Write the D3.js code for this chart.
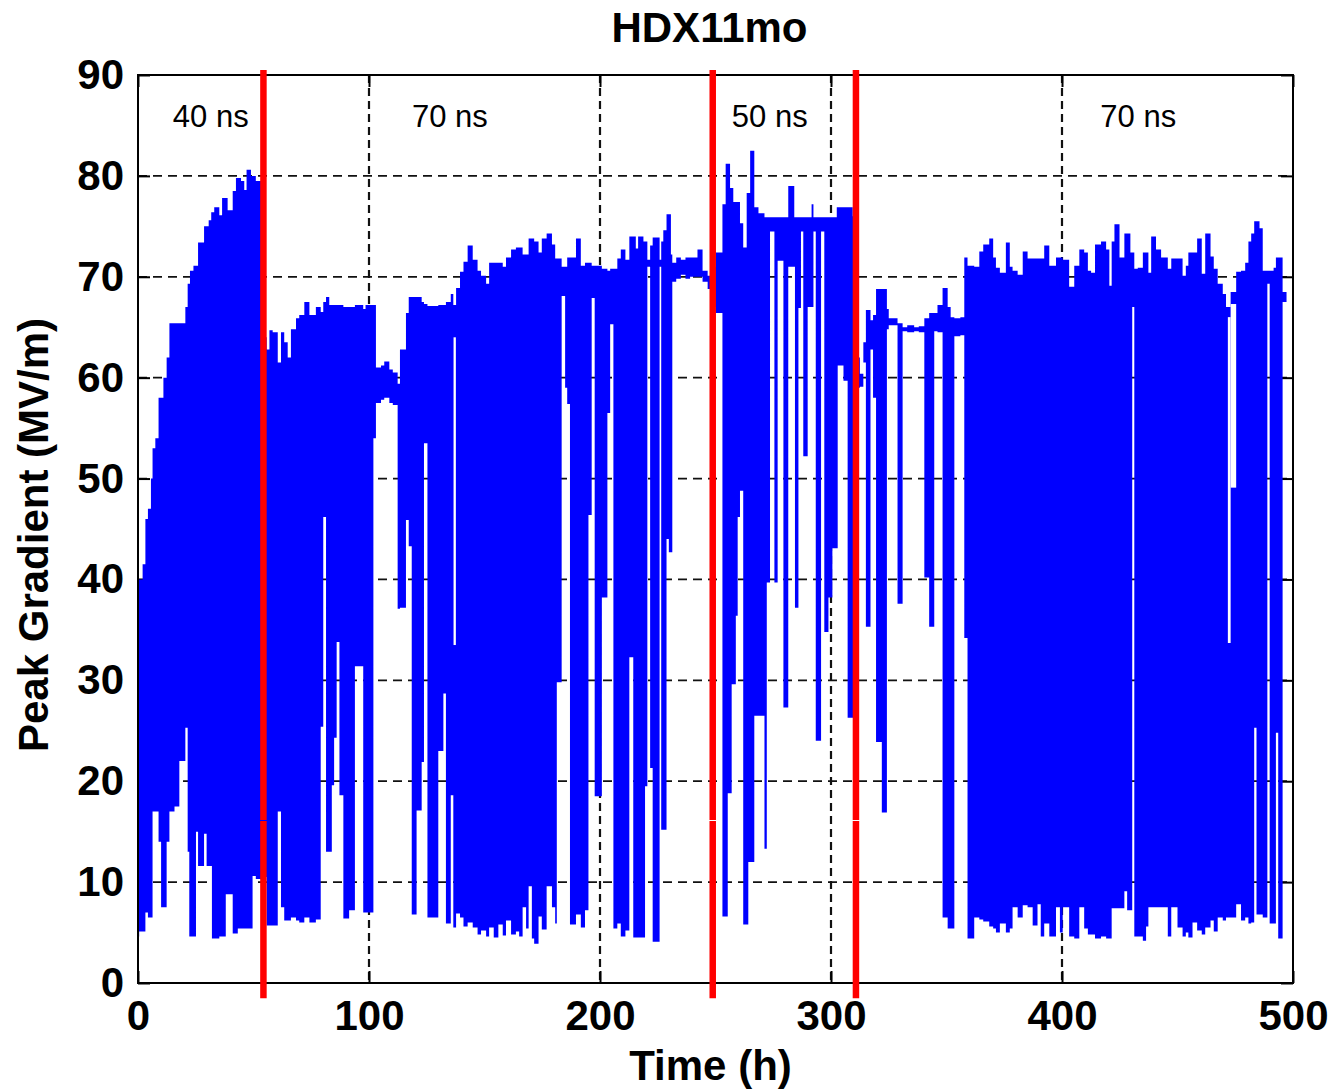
<!DOCTYPE html>
<html>
<head>
<meta charset="utf-8">
<script src="https://cdn.jsdelivr.net/npm/d3@7"></script>
<style>
  html, body { margin: 0; padding: 0; background: #fff; }
  svg text { font-family: "Liberation Sans", Arial, sans-serif; }
</style>
</head>
<body>
<svg id="chart" width="1334" height="1091"></svg>
<script>
// Peak gradient trace, one array per pulse-length regime.
// Each entry: [hour where the step starts, upper value, lower value] in MV/m.
const trace40ns = [
  [0, 40, 4.6], [0.5, 40, 5.1], [2.0, 41.5, 5.1], [3.2, 46, 7], [4.3, 47, 6.5],
  [5.6, 50, 6.5], [6.3, 53, 17], [7.5, 54, 17], [8.9, 58, 14], [10, 58, 7.5],
  [11, 60, 7.5], [12.4, 62, 14], [13.6, 65.4, 17], [15.8, 65.4, 17.5], [17.9, 65.4, 22],
  [20.5, 67, 25.3], [21.5, 69.3, 13], [22.2, 69.3, 4.6], [22.5, 70.6, 4.6], [24, 71.1, 4.6],
  [25.1, 71.1, 15], [26, 73.4, 11.6], [28.6, 75, 14.8], [29.7, 75, 11.6], [30.6, 75.6, 11.6],
  [31.7, 76.4, 11.6], [32, 76.4, 4.4], [33, 76.9, 4.4], [35.2, 76.1, 4.6], [36.4, 77.8, 4.6],
  [38, 77.8, 8.8], [38.8, 76.6, 8.8], [41, 78.5, 4.9], [42.4, 79.8, 4.9], [43.2, 79.8, 5.4],
  [44.6, 79.5, 5.4], [46, 78.6, 5.4], [47, 80.6, 5.4], [48.9, 80, 5.4], [49.6, 80, 10.6],
  [51, 79.5, 10.3]
];

const trace70nsA = [
  [54.3, 64, 10.5], [55.7, 62.8, 5.7], [56.9, 64.7, 5.7], [58.3, 64.5, 5.7], [60.5, 61.5, 17],
  [61.9, 64.5, 7.5], [63.3, 63.5, 6.2], [64.8, 62, 6.2], [66.2, 64.8, 6.5], [68.4, 65.9, 6.2],
  [69.8, 66.2, 6], [72, 67.5, 6.5], [74.2, 66.2, 6], [77, 67, 6.3], [79.1, 66.5, 25.4],
  [80.2, 67.5, 46.2], [81.4, 68, 13], [82.8, 67.2, 13], [83.9, 67.2, 19.6], [84.9, 67.2, 24.3],
  [86, 67.2, 33.8], [87.2, 67.2, 18.6], [88.9, 67, 6.4], [91.4, 67, 7.2], [93.9, 67.2, 31.4],
  [97.5, 66.8, 7], [98.5, 67.2, 7], [101.9, 67.2, 54], [103, 61, 57.5], [105.2, 61.2, 57.8],
  [106.6, 61.6, 58], [108.8, 60.8, 57.5], [110.3, 60.5, 57.3], [112.4, 59.4, 37.1], [113.4, 62.8, 37.2],
  [116, 66.4, 45.9], [117.2, 68, 43.3], [118.5, 68, 6.8], [120.6, 68, 17.1], [122.8, 67.5, 21.9],
  [123.8, 67.3, 53.5], [125.3, 67.1, 6.5], [130, 67.2, 23], [132.2, 67.2, 28.7], [133.3, 67.5, 5.9],
  [135.4, 68.3, 18.6], [136.5, 67.2, 5.5], [137.7, 68.9, 6.9], [139.4, 70.5, 6.5], [140.9, 71.5, 5.6],
  [142.7, 73.1, 6], [144.9, 71.7, 5.5], [147, 70.6, 4.8], [148.5, 70.1, 5.2], [150.7, 69.3, 4.6],
  [152, 71.4, 5.5], [154, 71.4, 4.5], [156, 71.4, 5.8], [157.9, 71, 4.7], [159.3, 71.9, 6.2],
  [161.5, 72.7, 4.8], [163.6, 72.9, 5.1], [165, 72.9, 4.6], [166.5, 72.2, 7.5], [168, 72.2, 5.4],
  [169.1, 73.8, 9.6], [170.5, 73.8, 4.4], [171.5, 73.5, 3.9], [173.4, 72.4, 6.6], [174.8, 73.8, 5.3],
  [176.9, 74.3, 9.6], [179.2, 73.2, 7.5], [180.6, 71.8, 5.9], [181.3, 71.8, 29.8], [183.4, 71, 68.1],
  [184.9, 71, 59], [185.8, 71.9, 57.4], [187, 71.9, 5.8], [189.6, 73.8, 6.8], [191.7, 71.1, 5.5],
  [193.5, 71.4, 7.2], [195, 71.4, 46.4], [196.4, 71.1, 67.9], [197.7, 71.1, 18.5], [200.8, 70.8, 38.2],
  [203.2, 70.6, 56.5], [204.4, 70.8, 65.3], [205.8, 70.8, 5.4], [207.5, 71.8, 5.9], [209, 72.7, 4.6],
  [211, 71.7, 5.2], [212.7, 74, 32.3], [214.4, 74, 4.5], [215.5, 72.8, 4.5], [216.5, 74, 4.5],
  [218.8, 73.5, 4.5], [219.5, 73.5, 19.5], [220.5, 71.7, 71], [221.7, 73.1, 21.3], [222.8, 73.9, 4.1],
  [225.8, 71.7, 71], [226.5, 73.5, 15.2], [227.4, 74.6, 15.2], [228.8, 76.2, 44], [229.8, 76.2, 42.7],
  [230.7, 72.2, 42.7], [231.3, 71.4, 69.5], [233, 71.9, 69.8], [235, 71.7, 70.2], [237, 71.9, 69.8],
  [239, 71.9, 70], [242.2, 72.7, 70], [244.4, 70.6, 69.5], [246.6, 70.1, 68.8]
];

const trace50ns = [
  [248.8, 71, 67], [250.2, 72.4, 66.4], [253, 77.2, 6.6], [254.4, 81.2, 6.6], [255.3, 81.2, 18.8],
  [256.3, 78.8, 18.8], [257, 78.8, 29.6], [257.7, 77.4, 29.6], [258.8, 77.4, 36.4], [259.6, 77.4, 46.2],
  [260.6, 75.3, 48.8], [262, 72.9, 5.8], [263.5, 78.3, 5.8], [264.2, 78.3, 12], [265, 82.5, 12],
  [266.8, 76.9, 26.5], [268.6, 76.3, 26.5], [271.2, 75.9, 13.3], [272.2, 75.9, 39.7], [273.6, 75.9, 74.5],
  [275.5, 75.9, 39.7], [276.9, 75.9, 71.6], [279.4, 75.9, 27.3], [281.5, 79, 71], [284.1, 75.9, 71],
  [284.4, 75.9, 37.2], [285.9, 75.9, 66.9], [287, 75.9, 74.5], [288, 75.9, 52.2], [289.9, 75.9, 67],
  [291.6, 77.2, 67], [292.4, 75.9, 74.5], [293.4, 75.9, 24], [295.7, 75.9, 74.5], [297.1, 75.9, 34.8],
  [298.9, 75.9, 38.2], [300.6, 75.9, 43.1], [302.5, 76.9, 43.1], [302.9, 76.9, 61.2], [305.4, 76.9, 59.7],
  [307.2, 76.9, 26.3], [309.4, 76, 26.3]
];

const trace70nsB = [
  [310.8, 62, 59], [312.5, 60.4, 59.1], [314, 63.5, 61.5], [315.1, 66.7, 35.3], [317.1, 65.7, 62.8],
  [318.2, 66.2, 58], [319.5, 68.8, 23.9], [322, 68.8, 16.9], [324.2, 66.8, 64.8], [325, 65.9, 65.2],
  [328.8, 65.4, 37.6], [331, 65, 64.6], [333, 65.2, 64.5], [336, 65, 64.6], [338, 65.1, 64.5],
  [340.4, 65.9, 40.2], [342.5, 66.4, 35.3], [344.7, 66.4, 64.6], [346.1, 67.2, 64.5], [348.3, 68.9, 6.5],
  [350.5, 67, 5.4], [351.8, 66, 5.4], [353.4, 65.9, 64.1], [356, 66, 64.2], [357.7, 71.9, 34.2],
  [359.1, 71.1, 4.4], [362, 71, 6.5], [364.2, 72.5, 6.3], [365.9, 73.2, 6.1], [368.5, 73.8, 5.6],
  [370.2, 71.9, 5.4], [371.4, 70.9, 5], [373.1, 70.4, 5.9], [375.7, 73.4, 5], [377.4, 71, 5.4],
  [378.6, 70.6, 7.5], [380.8, 70.2, 6.5], [383, 72.5, 7.7], [385.1, 71.8, 7.5], [387.3, 71.8, 5.7],
  [389.4, 71.8, 7.8], [390.8, 71.8, 4.6], [392.3, 73.1, 5.9], [394.5, 71.1, 4.6], [397.4, 71.9, 7.5],
  [399.1, 71.9, 5], [400.3, 71.7, 7.5], [403.1, 69, 4.6], [405.3, 71.1, 4.4], [407.5, 72.7, 7.5],
  [409.6, 72.4, 5.4], [411.2, 70.6, 4.8], [412.6, 70.4, 4.8], [414.3, 73.2, 4.4], [416.9, 73.5, 4.6],
  [419.1, 72.7, 4.4], [420.5, 69.1, 4.4], [421.5, 73.5, 7.4], [422.7, 75.2, 7.4], [424.9, 71.9, 7.4],
  [427, 74.3, 9.1], [428.2, 74.3, 7.2], [429.6, 72.4, 7.2], [430.4, 72.4, 67], [431.3, 70.8, 4.6],
  [432.8, 70.9, 4.6], [435, 72.4, 4.2], [436.4, 72.4, 5.6], [437.4, 70.4, 7.5], [438.6, 74, 7.5],
  [440.7, 72.7, 7.5], [442.9, 71.9, 7.5], [445.8, 70.8, 4.6], [447.3, 71.8, 7.5], [450, 71.8, 5.5],
  [452.2, 70.1, 4.6], [453.6, 71.1, 5], [454.7, 72.4, 4.5], [456.5, 72.4, 6], [458.5, 73.8, 5.2],
  [460.5, 70.3, 4.8], [462, 74.3, 5.5], [464.3, 72, 6.2], [465.7, 70.8, 5.1], [467.4, 69.3, 6.5],
  [469.6, 68.3, 6.2], [471, 67, 6.5], [473, 68.5, 6.5], [475.4, 70.5, 7.8], [477.5, 70.6, 6.2],
  [479.3, 71.4, 6.5], [480.7, 73.5, 5.9], [481.9, 74.3, 6], [483.2, 75.5, 25.3], [484.2, 75.5, 6.8],
  [485.5, 74.8, 6.8], [486.9, 70.6, 6.5], [488.9, 70.6, 69.3], [489.9, 70.6, 5.9], [491.6, 70.9, 5.9],
  [492.6, 71.9, 24.8], [493.6, 71.9, 4.4], [495.5, 68.5, 67.5]
];
const traceEndHour = 497.2;

// Short intervals with no recorded points: [from hour, to hour, lower value, upper value]
const traceGaps = [
  [136.6, 137.6, 33.5, 64],
  [471.8, 473.0, 33.7, 66],
  [473.0, 475.4, 49.1, 67.3]
];

// Pulse-length changes (hours) and regime labels
const pulseChangeHours = [54.3, 248.8, 310.8];
const pulseLabels = ["40 ns", "70 ns", "50 ns", "70 ns"];
const pulseLabelHours = [31.5, 135, 273.5, 433];

const xTicks = [0, 100, 200, 300, 400, 500];
const yTicks = [0, 10, 20, 30, 40, 50, 60, 70, 80, 90];
const titleText = "HDX11mo";
const xLabel = "Time (h)";
const yLabel = "Peak Gradient (MV/m)";

// ---- layout ----
const svg = d3.select("#chart");
const plot = { left: 138, right: 1293, top: 75, bottom: 983 };
const x = d3.scaleLinear().domain([0, 500]).range([plot.left, plot.right]);
const y = d3.scaleLinear().domain([0, 90]).range([plot.bottom, plot.top]);
const BLUE = "#0000ff", RED = "#ff0000";
const bigFont = "42px";

// grid
const grid = svg.append("g");
grid.selectAll("line.h").data(yTicks.filter(v => v > 0 && v < 90)).join("line")
  .attr("x1", plot.left).attr("x2", plot.right)
  .attr("y1", d => y(d)).attr("y2", d => y(d))
  .attr("stroke", "#111").attr("stroke-width", 1.8).attr("stroke-dasharray", "9,6");
grid.selectAll("line.v").data(xTicks.filter(v => v > 0 && v < 500)).join("line")
  .attr("x1", d => x(d)).attr("x2", d => x(d))
  .attr("y1", plot.top).attr("y2", plot.bottom)
  .attr("stroke", "#111").attr("stroke-width", 2.2).attr("stroke-dasharray", "8,5");

// axes with inward ticks
const tickLen = 12;
const fmt = d3.format("d");
const axB = svg.append("g").attr("transform", `translate(0,${plot.bottom})`)
  .call(d3.axisBottom(x).tickValues(xTicks).tickFormat(fmt).tickSizeInner(-tickLen).tickSizeOuter(0).tickPadding(17));
const axL = svg.append("g").attr("transform", `translate(${plot.left},0)`)
  .call(d3.axisLeft(y).tickValues(yTicks).tickFormat(fmt).tickSizeInner(-tickLen).tickSizeOuter(0).tickPadding(14));
const axT = svg.append("g").attr("transform", `translate(0,${plot.top})`)
  .call(d3.axisTop(x).tickValues(xTicks).tickFormat("").tickSizeInner(-tickLen).tickSizeOuter(0));
const axR = svg.append("g").attr("transform", `translate(${plot.right},0)`)
  .call(d3.axisRight(y).tickValues(yTicks).tickFormat("").tickSizeInner(-tickLen).tickSizeOuter(0));
[axB, axL, axT, axR].forEach(a => {
  a.select(".domain").remove();
  a.selectAll(".tick line").attr("stroke", "#000").attr("stroke-width", 2);
  a.selectAll(".tick text").attr("fill", "#000")
    .style("font-family", "'Liberation Sans', Arial, sans-serif")
    .style("font-size", bigFont).style("font-weight", "bold");
});

// trace
const steps = [...trace40ns, ...trace70nsA, ...trace50ns, ...trace70nsB];
const lastStep = steps[steps.length - 1];
const series = steps.map(([t, hi, lo]) => ({ t, hi, lo }))
  .concat([{ t: traceEndHour, hi: lastStep[1], lo: lastStep[2] }]);
const area = d3.area().curve(d3.curveStepAfter)
  .x(d => x(d.t)).y0(d => y(d.lo)).y1(d => y(d.hi));
svg.append("path").datum(series).attr("d", area).attr("fill", BLUE);

svg.append("g").selectAll("rect").data(traceGaps).join("rect")
  .attr("x", d => x(d[0])).attr("width", d => x(d[1]) - x(d[0]))
  .attr("y", d => y(d[3])).attr("height", d => y(d[2]) - y(d[3]))
  .attr("fill", "#fff");

// frame
svg.append("rect")
  .attr("x", plot.left).attr("y", plot.top)
  .attr("width", plot.right - plot.left).attr("height", plot.bottom - plot.top)
  .attr("fill", "none").attr("stroke", "#000").attr("stroke-width", 2);

// pulse-length change markers (drawn in two pieces)
const markerSpans = [[-1.5, 16.05], [16.15, 90.5]];
const markers = svg.append("g");
pulseChangeHours.forEach(h => {
  markerSpans.forEach(([a, b]) => {
    markers.append("line")
      .attr("x1", x(h)).attr("x2", x(h))
      .attr("y1", y(a)).attr("y2", y(b))
      .attr("stroke", RED).attr("stroke-width", 6.5);
  });
});

// regime labels
svg.append("g").selectAll("text").data(pulseLabels).join("text")
  .attr("x", (d, i) => x(pulseLabelHours[i]))
  .attr("y", plot.top + 52)
  .attr("text-anchor", "middle")
  .style("font-size", "31px").attr("fill", "#000")
  .text(d => d);

// titles
svg.append("text").attr("x", (plot.left + plot.right) / 2 - 6).attr("y", 42)
  .attr("text-anchor", "middle").style("font-size", bigFont).style("font-weight", "bold")
  .text(titleText);
svg.append("text").attr("x", (plot.left + plot.right) / 2 - 5).attr("y", 1080)
  .attr("text-anchor", "middle").style("font-size", bigFont).style("font-weight", "bold")
  .text(xLabel);
svg.append("text").attr("transform", `translate(48,${(plot.top + plot.bottom) / 2 + 6}) rotate(-90)`)
  .attr("text-anchor", "middle").style("font-size", bigFont).style("font-weight", "bold")
  .text(yLabel);
</script>
</body>
</html>
